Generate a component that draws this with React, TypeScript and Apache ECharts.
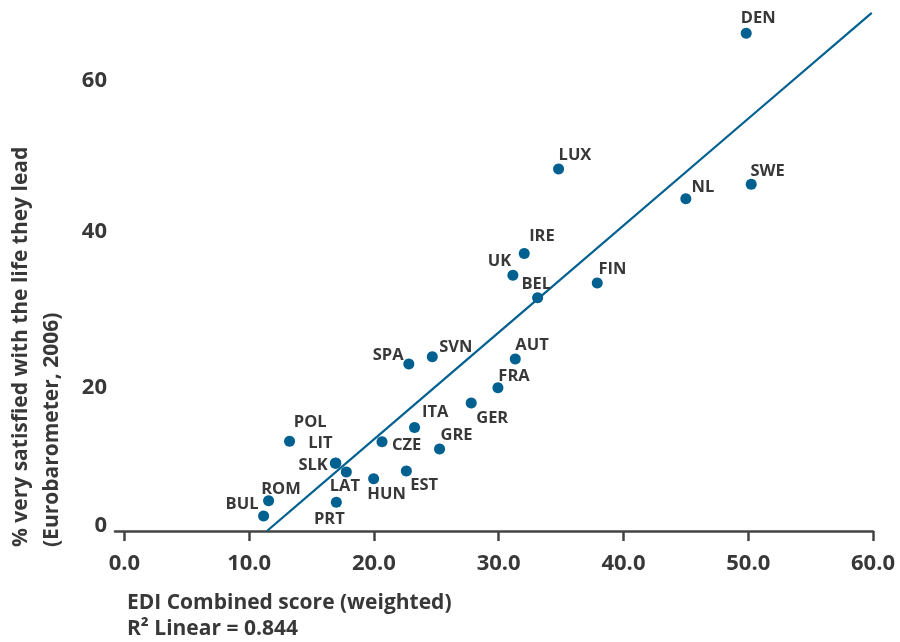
import React, { useEffect, useRef } from "react";
import * as echarts from "echarts";

// Country codes
const countries = [
  "BUL", "ROM", "POL", "LIT", "SLK", "LAT", "PRT", "HUN", "CZE", "EST", "ITA", "GRE",
  "SPA", "SVN", "GER", "FRA", "AUT", "BEL", "UK", "IRE", "FIN", "LUX", "NL", "SWE", "DEN",
];
// EDI Combined score (weighted)
const ediScore = [
  11.16, 11.56, 13.24, 16.95, 16.91, 17.79, 16.99, 19.98, 20.65, 22.6, 23.26, 25.26,
  22.8, 24.68, 27.8, 29.94, 31.33, 33.12, 31.14, 32.05, 37.9, 34.8, 45.0, 50.24, 49.84,
];
// % very satisfied with the life they lead
const satisfied = [
  2.0, 4.0, 11.9, 9.0, 8.98, 7.82, 3.8, 6.94, 11.84, 7.95, 13.72, 10.87,
  22.14, 23.11, 16.97, 19.0, 22.8, 30.93, 33.9, 36.8, 32.88, 48.0, 44.05, 45.96, 65.98,
];
// Linear fit line end points [x, y]
const fitX = [11.43, 59.9];
const fitY = [0, 68.7];

const xTicks = [0, 10, 20, 30, 40, 50, 60];
const yTicks = [0, 20, 40, 60];

// label offsets (label centre minus dot centre, px) — layout only
const labelOffsets: Record<string, [number, number]> = {
  BUL: [-21.6, -13.7], ROM: [12.4, -13.5], POL: [20.7, -20.5], LIT: [-15.5, -21.5],
  SLK: [-22.2, 0.5], LAT: [-1.5, 12.8], PRT: [-7, 14.7], HUN: [12.9, 13.5],
  CZE: [24.6, 2.3], EST: [17.8, 12.7], ITA: [20.7, -16.6], GRE: [17, -15.7],
  SPA: [-20.7, -10.3], SVN: [23.5, -11.2], GER: [21, 13.7], FRA: [16.1, -13.5],
  AUT: [16.8, -15.7], BEL: [-1.3, -14.7], UK: [-13.4, -15.6], IRE: [17.7, -18.6],
  FIN: [15.2, -15.2], LUX: [16.4, -15.3], NL: [17, -13.7], SWE: [16.3, -14.6],
  DEN: [12, -16.7],
};

const BLUE = "#00608f";
const TEXT = "#383838";
const FONT = "'Open Sans', 'Noto Sans', sans-serif";
const SYM = 11;

export default function App() {
  const ref = useRef<HTMLDivElement>(null);
  useEffect(() => {
    if (!ref.current) return;
    const chart = echarts.init(ref.current, undefined, { renderer: "svg" });
    const pts = countries.map((c, i) => {
      const off = labelOffsets[c] || [0, -15];
      return {
        name: c,
        value: [ediScore[i], satisfied[i]],
        label: { position: [SYM / 2 + off[0], SYM / 2 + off[1]] },
      };
    });
    chart.setOption({
      animation: false,
      textStyle: { fontFamily: FONT },
      grid: { left: 115, right: 27, top: 3, bottom: 111, containLabel: false },
      xAxis: {
        type: "value",
        min: -0.75,
        max: 60,
        splitLine: { show: false },
        axisLine: { show: true, onZero: false, lineStyle: { color: "#444", width: 2.5 } },
        axisTick: {
          show: true,
          length: 10,
          customValues: xTicks,
          lineStyle: { color: "#444", width: 2.5 },
        },
        axisLabel: {
          customValues: xTicks,
          formatter: (v: number) => v.toFixed(1),
          color: TEXT,
          fontSize: 22,
          fontWeight: "bold",
          fontFamily: FONT,
          margin: 19,
        },
      },
      yAxis: {
        type: "value",
        min: 0,
        max: 70,
        splitLine: { show: false },
        axisLine: { show: false },
        axisTick: { show: false },
        axisLabel: {
          customValues: yTicks,
          color: TEXT,
          fontSize: 22,
          fontWeight: "bold",
          fontFamily: FONT,
          margin: 8,
          formatter: (v: number) =>
            v === 0 ? "{z|0}" : v === 20 ? "{t|20}" : String(v),
          rich: {
            z: { fontSize: 22, fontWeight: "bold", color: TEXT, fontFamily: FONT, padding: [0, 0, 16, 0] },
            t: { fontSize: 22, fontWeight: "bold", color: TEXT, fontFamily: FONT, padding: [10, 0, 0, 0] },
          },
        },
      },
      series: [
        {
          type: "line",
          data: fitX.map((x, i) => [x, fitY[i]]),
          symbol: "none",
          lineStyle: { color: BLUE, width: 2.2 },
          silent: true,
          z: 1,
        },
        {
          type: "scatter",
          data: pts,
          symbolSize: SYM,
          itemStyle: { color: BLUE, opacity: 1 },
          z: 2,
          label: {
            show: true,
            formatter: "{b}",
            align: "center",
            verticalAlign: "middle",
            color: TEXT,
            fontSize: 16.5,
            fontWeight: "bold",
            fontFamily: FONT,
            lineHeight: 17,
          },
        },
      ],
      graphic: [
        {
          type: "text",
          x: 127,
          y: 601,
          style: {
            text: "EDI Combined score (weighted)",
            fill: TEXT,
            font: `bold 21px ${FONT}`,
            textAlign: "left",
            textVerticalAlign: "middle",
          },
        },
        {
          type: "text",
          x: 127,
          y: 627,
          style: {
            text: "R² Linear = 0.844",
            fill: TEXT,
            font: `bold 21px ${FONT}`,
            textAlign: "left",
            textVerticalAlign: "middle",
          },
        },
        {
          type: "text",
          x: 19,
          y: 547,
          rotation: Math.PI / 2,
          style: {
            text: "% very satisfied with the life they lead",
            fill: TEXT,
            font: `bold 21px ${FONT}`,
            textAlign: "left",
            textVerticalAlign: "middle",
          },
        },
        {
          type: "text",
          x: 50,
          y: 547,
          rotation: Math.PI / 2,
          style: {
            text: "(Eurobarometer, 2006)",
            fill: TEXT,
            font: `bold 21px ${FONT}`,
            textAlign: "left",
            textVerticalAlign: "middle",
          },
        },
      ],
    });
    return () => chart.dispose();
  }, []);
  return (
    <div
      ref={ref}
      style={{ position: "fixed", left: 0, top: 0, width: 900, height: 642 }}
    />
  );
}
